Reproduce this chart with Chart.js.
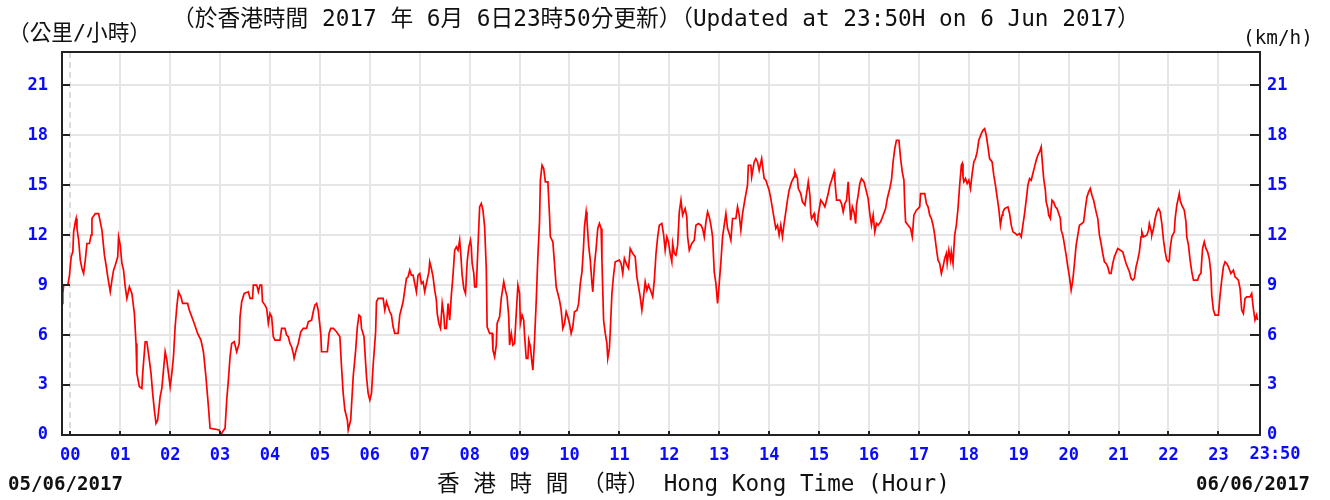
<!DOCTYPE html>
<html>
<head>
<meta charset="utf-8">
<script src="https://cdn.jsdelivr.net/npm/chart.js@4/dist/chart.umd.min.js"></script>
<style>
  html, body { margin: 0; padding: 0; background: #fff; }
  #wrap { width: 1330px; height: 500px; }
</style>
</head>
<body>
<div id="wrap"><canvas id="wind" width="1330" height="500"></canvas></div>
<script>
// wind speed readings, minutes after 00:00 on 05/06/2017 -> km/h
const minutes = [
  -10, -9, -8, -3, -1, 1, 3, 4, 6, 7, 8, 10, 12, 14, 16, 18, 20, 23, 25, 26, 30, 34, 36, 38, 41, 43, 45, 48, 50, 52, 54, 57, 58,
  60, 62, 64, 66, 68, 71, 74, 77, 79, 80, 83, 86, 87, 90, 92, 95, 97, 99, 101, 103, 105, 108, 110, 112, 114, 116, 118,
  120, 122, 124, 126, 128, 130, 133, 135, 141, 143, 149, 153, 157, 160, 163, 166, 168, 179,
  181, 183, 186, 188, 190, 192, 194, 197, 200, 203, 204, 206, 209, 214, 216, 219, 220, 224, 226, 228, 230, 231, 234, 236, 238,
  240, 242, 244, 246, 252, 254, 258, 260, 262, 264, 266, 268, 269, 272, 274, 277, 280, 284, 286, 290, 292, 294, 296, 298,
  301, 302, 309, 311, 313, 316, 320, 324, 326, 328, 330, 333, 334, 337, 340, 343, 345, 347, 349, 350, 353, 354, 356, 358,
  360, 362, 364, 367, 368, 370, 376, 378, 380, 382, 384, 386, 388, 390, 394, 396, 398, 400, 402, 404, 406, 408, 410, 412,
  414, 416, 418, 420, 422, 424, 426, 428, 431, 432, 434, 436, 438, 440, 441, 443, 445, 447, 449, 450, 452, 454, 456, 458,
  460, 462, 464, 466, 468, 469, 471, 473, 475, 477, 479, 481, 482, 483, 485, 486, 488, 490, 492, 494, 496, 498,
  500, 501, 504, 507, 508, 510, 512, 513, 516, 518, 521, 523, 525, 527, 528, 530, 532, 534, 536, 538,
  540, 541, 543, 545, 546, 548, 550, 551, 553, 555, 556, 558, 560, 562, 564, 565, 567, 569, 571, 574, 576, 577,
  580, 582, 584, 586, 588, 590, 592, 594, 596, 598, 600, 602, 604, 606, 609, 611, 613, 615, 617, 618,
  620, 621, 623, 625, 627, 628, 630, 632, 634, 636, 638, 639, 641, 643, 645, 646, 648, 649, 651, 653, 655,
  660, 662, 664, 666, 669, 671, 673, 676, 679, 681, 683, 685, 687, 689, 691, 693, 695, 698,
  700, 702, 704, 706, 708, 711, 713, 715, 717, 719, 721, 723, 724, 726, 728, 730, 732, 734, 736, 739,
  741, 742, 744, 747, 750, 752, 755, 758, 760, 762, 764, 766, 768, 770, 772, 774, 776, 778,
  780, 782, 784, 786, 788, 790, 792, 794, 796, 800, 802, 804, 806, 808, 811, 814, 815, 818, 819,
  822, 824, 826, 828, 831, 834, 836, 838, 840, 842, 844, 846, 848, 850, 852, 854, 856, 858,
  860, 862, 864, 867, 870, 871, 874, 875, 878, 880, 883, 885, 887, 889, 890, 891, 894, 895, 898, 899,
  902, 905, 907, 909, 911, 913, 915, 918, 919, 921, 925, 927, 929, 931, 933, 935, 936, 938,
  940, 942, 944, 945, 947, 949, 951, 954, 956, 959, 961, 963, 965, 967, 969, 971, 974, 977,
  980, 982, 985, 987, 989, 991, 993, 996, 998, 1000, 1002, 1003, 1004, 1007, 1010, 1012, 1014, 1017, 1019,
  1021, 1022, 1027, 1029, 1031, 1033, 1035, 1037, 1039, 1041, 1043, 1045, 1047, 1049, 1051, 1053, 1054, 1056, 1058, 1059,
  1061, 1063, 1065, 1067, 1069, 1071, 1072, 1073, 1074, 1076, 1078, 1080, 1082, 1084, 1086, 1088, 1090, 1092, 1095, 1097, 1099,
  1101, 1103, 1105, 1108, 1110, 1112, 1114, 1116, 1118, 1120, 1121, 1123, 1127, 1129, 1131, 1133, 1136, 1138,
  1141, 1143, 1145, 1147, 1149, 1151, 1153, 1155, 1157, 1159, 1161, 1163, 1165, 1167, 1168, 1170, 1172, 1173, 1175, 1176, 1178,
  1180, 1182, 1184, 1186, 1188, 1190, 1191, 1193, 1195, 1197, 1199, 1201, 1203, 1205, 1207, 1209, 1211, 1213, 1216, 1218,
  1220, 1222, 1224, 1226, 1228, 1230, 1233, 1235, 1237, 1239, 1241, 1243, 1245, 1247, 1249, 1251, 1253, 1255, 1259,
  1265, 1269, 1273, 1275, 1277, 1279, 1281, 1283, 1285, 1287, 1288, 1290, 1294, 1296, 1297, 1299,
  1300, 1302, 1304, 1306, 1308, 1310, 1312, 1314, 1316, 1318, 1320, 1321, 1322, 1324, 1327, 1328, 1330, 1333, 1334, 1336, 1339,
  1341, 1342, 1344, 1346, 1348, 1350, 1355, 1357, 1359, 1360, 1361, 1363, 1365, 1367, 1369, 1371, 1372, 1374, 1376,
  1380, 1382, 1384, 1386, 1388, 1390, 1392, 1395, 1398, 1400, 1402, 1404, 1406, 1408, 1410, 1412, 1414, 1418,
  1420, 1422, 1424, 1426, 1427
];
const speeds = [
  7.9, 8.5, 9.0, 9.0, 9.6, 10.7, 11.0, 12.2, 12.8, 13.0, 12.4, 11.7, 10.5, 10.0, 9.7, 10.5, 11.5, 11.5, 12.0, 13.0, 13.3, 13.3, 12.8, 12.3, 10.8, 10.2, 9.5, 8.6, 9.3, 9.9, 10.2, 10.7, 11.9,
  11.4, 10.3, 9.9, 8.9, 8.2, 8.9, 8.5, 7.3, 5.5, 3.7, 2.9, 2.8, 3.7, 5.6, 5.6, 4.5, 3.7, 2.5, 1.5, 0.7, 0.9, 2.3, 2.8, 3.9, 5.0, 4.5, 3.7,
  2.9, 3.7, 4.7, 6.5, 7.7, 8.6, 8.3, 7.9, 7.9, 7.5, 6.7, 6.1, 5.7, 5.0, 3.5, 1.7, 0.4, 0.3,
  0.0, 0.2, 0.4, 2.1, 3.3, 4.7, 5.5, 5.6, 5.0, 5.5, 7.1, 8.0, 8.5, 8.6, 8.2, 8.2, 9.0, 9.0, 8.6, 9.0, 9.0, 8.0, 7.8, 7.6, 6.7,
  7.3, 7.1, 5.9, 5.7, 5.7, 6.4, 6.4, 6.0, 5.9, 5.5, 5.3, 4.9, 4.6, 5.2, 5.5, 6.2, 6.4, 6.4, 6.8, 6.9, 7.4, 7.8, 7.9, 7.5,
  6.1, 5.0, 5.0, 6.1, 6.4, 6.4, 6.2, 5.9, 4.1, 2.5, 1.5, 0.9, 0.3, 0.9, 3.5, 5.1, 6.5, 7.2, 7.1, 6.4, 5.9, 5.1, 3.5, 2.5,
  2.1, 2.5, 4.2, 6.2, 8.0, 8.2, 8.2, 7.5, 8.0, 7.7, 7.4, 7.2, 6.5, 6.1, 6.1, 7.2, 7.6, 8.0, 8.7, 9.4, 9.5, 9.9, 9.6, 9.6,
  9.1, 8.6, 9.6, 9.7, 9.1, 9.2, 8.6, 9.1, 9.8, 10.4, 10.0, 9.5, 8.7, 8.1, 7.3, 6.7, 6.4, 7.9, 7.2, 6.4, 6.4, 7.9, 6.9, 8.4,
  9.6, 11.1, 11.3, 11.1, 11.7, 11.1, 9.6, 8.8, 8.5, 10.4, 11.3, 11.7, 11.3, 10.3, 9.7, 8.9, 8.9, 11.3, 13.7, 13.9, 13.5, 12.5,
  10.0, 6.5, 6.1, 6.1, 5.1, 4.7, 5.4, 6.7, 7.1, 8.2, 9.2, 8.7, 8.3, 7.1, 5.4, 6.1, 5.4, 5.5, 7.3, 9.0,
  8.5, 6.7, 7.2, 6.9, 6.0, 4.6, 4.6, 5.7, 5.3, 4.3, 3.9, 5.7, 8.0, 10.7, 12.8, 15.3, 16.2, 16.0, 15.2, 15.2, 13.2, 11.9,
  11.6, 10.3, 8.9, 8.5, 8.1, 7.5, 6.4, 6.7, 7.4, 7.1, 6.7, 6.1, 6.5, 7.4, 7.5, 7.9, 9.1, 9.8, 11.4, 12.5,
  13.4, 12.9, 11.4, 10.5, 9.1, 8.6, 10.2, 11.2, 12.4, 12.7, 12.4, 10.5, 6.9, 6.1, 5.5, 4.6, 5.2, 6.2, 8.5, 9.6, 10.4,
  10.5, 10.3, 9.7, 10.6, 10.2, 10.0, 11.2, 10.9, 10.7, 9.5, 8.9, 8.3, 7.5, 8.3, 9.2, 8.7, 9.0, 8.6,
  8.3, 9.3, 10.9, 11.9, 12.6, 12.7, 12.1, 11.1, 11.9, 11.6, 10.9, 10.4, 11.5, 10.9, 10.8, 11.4, 13.4, 14.1, 13.2, 13.6,
  13.1, 11.9, 11.1, 11.5, 11.7, 12.6, 12.7, 12.6, 12.4, 11.9, 12.8, 13.4, 13.1, 12.6, 11.9, 9.8, 9.1, 7.9,
  9.1, 10.4, 11.9, 12.6, 13.3, 12.4, 12.1, 11.7, 13.0, 13.0, 13.7, 13.2, 12.3, 13.3, 14.2, 15.0, 16.2, 16.2, 15.5,
  16.4, 16.6, 16.4, 15.9, 16.6, 15.4, 15.3, 15.0, 14.7, 14.2, 13.6, 13.0, 12.4, 12.6, 12.0, 12.6, 11.9, 12.7,
  13.4, 14.1, 14.7, 15.2, 15.5, 15.8, 15.4, 14.8, 14.5, 14.0, 13.8, 14.5, 15.2, 14.4, 13.3, 13.0, 13.3, 12.9, 12.6, 13.2,
  14.1, 13.9, 13.7, 14.1, 14.5, 15.0, 15.3, 15.8, 15.3, 14.1, 14.1, 13.9, 13.4, 13.9, 14.1, 15.2, 14.4, 12.9,
  13.7, 13.4, 12.7, 13.8, 14.4, 15.1, 15.4, 15.2, 14.8, 14.2, 13.3, 12.6, 13.2, 12.2, 12.7, 12.6, 12.8, 13.2,
  13.6, 14.2, 14.8, 15.3, 16.4, 17.2, 17.7, 17.7, 16.6, 15.8, 15.3, 13.8, 12.8, 12.6, 12.4, 11.9, 13.2, 13.5, 13.6,
  13.7, 14.5, 14.5, 13.9, 13.7, 13.2, 13.0, 12.6, 12.0, 11.2, 10.5, 10.3, 9.7, 10.1, 10.6, 10.9, 10.3, 11.1, 10.5, 11.0,
  10.3, 12.0, 12.6, 13.6, 15.0, 16.2, 16.3, 15.5, 15.2, 15.4, 15.1, 15.3, 14.8, 15.7, 16.4, 16.6, 17.0, 17.7, 18.1, 18.3, 18.4,
  18.0, 17.3, 16.6, 16.4, 15.6, 15.0, 14.3, 13.6, 12.6, 13.2, 13.4, 13.6, 13.7, 13.3, 12.6, 12.2, 12.1, 12.0,
  12.1, 11.9, 12.6, 13.3, 14.1, 15.0, 15.4, 15.3, 15.7, 16.1, 16.5, 16.8, 17.0, 17.3, 16.6, 15.4, 14.7, 14.0, 13.6, 13.2, 13.0,
  14.1, 14.0, 13.7, 13.6, 13.3, 13.0, 12.3, 12.0, 11.4, 10.8, 10.1, 9.5, 8.7, 9.3, 10.3, 11.4, 12.0, 12.6, 12.7, 12.8,
  13.6, 14.3, 14.6, 14.8, 14.4, 14.1, 13.4, 13.0, 12.0, 11.5, 10.9, 10.4, 10.3, 10.1, 9.7, 9.7, 10.3, 10.7, 11.2,
  11.0, 10.3, 9.8, 9.4, 9.3, 9.4, 10.1, 10.5, 11.0, 11.9, 12.2, 11.9, 12.0, 12.3, 12.7, 12.3,
  12.0, 12.4, 13.0, 13.4, 13.6, 13.4, 12.7, 11.7, 11.0, 10.5, 10.4, 10.5, 11.2, 11.9, 12.2, 13.0, 13.8, 14.5, 14.1, 13.8, 13.5,
  12.8, 11.9, 11.4, 10.5, 9.8, 9.3, 9.3, 9.6, 9.7, 10.5, 11.2, 11.6, 11.2, 11.0, 10.6, 9.7, 8.4, 7.5, 7.2,
  7.2, 8.4, 9.3, 10.1, 10.4, 10.3, 10.1, 9.7, 9.9, 9.5, 9.4, 9.3, 8.8, 7.5, 7.3, 8.2, 8.3, 8.3,
  8.5, 7.6, 6.9, 7.2, 6.9
];
const hourTicks = [0, 1, 2, 3, 4, 5, 6, 7, 8, 9, 10, 11, 12, 13, 14, 15, 16, 17, 18, 19, 20, 21, 22, 23];
const speedTicks = [0, 3, 6, 9, 12, 15, 18, 21];
const endLabel = '23:50';
const titleZh = '（於香港時間 2017 年 6月 6日23時50分更新）（Updated at 23:50H on 6 Jun 2017）';
const unitZh = '（公里/小時）';
const unitEn = '(km/h)';
const axisTitle = '香 港 時 間 （時） Hong Kong Time (Hour)';
const startDate = '05/06/2017';
const endDate = '06/06/2017';

const BLUE = '#0a0aff';
const MONO = '"DejaVu Sans Mono", "Liberation Mono", monospace';
const CJK = '"DejaVu Sans Mono", "Noto Sans CJK TC", monospace';
const tickFont = { family: MONO, size: 17, weight: 'bold' };

// draw text squeezed/stretched to a measured width
function fitText(ctx, text, x, y, width, weight, family, align) {
  ctx.font = weight + ' 20px ' + family;
  const w = ctx.measureText(text).width;
  const size = 20 * width / w;
  ctx.font = weight + ' ' + size.toFixed(2) + 'px ' + family;
  ctx.textAlign = align || 'left';
  ctx.textBaseline = 'middle';
  ctx.fillText(text, x, y);
}

const frame = {
  id: 'frame',
  beforeDatasetsDraw(chart) {
    const { ctx, chartArea: a, scales } = chart;
    const x = scales.x, y = scales.y;
    ctx.save();
    ctx.lineWidth = 2;
    ctx.strokeStyle = '#e6e6e6';
    speedTicks.slice(1).forEach(v => {
      const py = Math.round(y.getPixelForValue(v));
      ctx.beginPath(); ctx.moveTo(a.left, py); ctx.lineTo(a.right, py); ctx.stroke();
    });
    hourTicks.forEach(h => {
      const px = Math.round(x.getPixelForValue(h * 60));
      ctx.beginPath();
      ctx.setLineDash(h === 0 ? [6, 4] : []);
      ctx.strokeStyle = h === 0 ? '#dcdcdc' : '#e6e6e6';
      ctx.moveTo(px, a.top); ctx.lineTo(px, a.bottom); ctx.stroke();
    });
    ctx.restore();
  },
  afterDatasetsDraw(chart) {
    const { ctx, chartArea: a, scales } = chart;
    const x = scales.x, y = scales.y;
    ctx.save();
    ctx.strokeStyle = '#222';
    ctx.lineWidth = 2;
    ctx.strokeRect(a.left, a.top, a.right - a.left, a.bottom - a.top);
    hourTicks.forEach(h => {
      const px = Math.round(x.getPixelForValue(h * 60));
      ctx.beginPath(); ctx.moveTo(px, a.bottom); ctx.lineTo(px, a.bottom - 4); ctx.stroke();
    });
    speedTicks.forEach(v => {
      const py = Math.round(y.getPixelForValue(v));
      ctx.beginPath(); ctx.moveTo(a.left, py); ctx.lineTo(a.left + 8, py); ctx.stroke();
      ctx.beginPath(); ctx.moveTo(a.right, py); ctx.lineTo(a.right - 10, py); ctx.stroke();
    });

    ctx.fillStyle = BLUE;
    ctx.font = 'bold 17px ' + MONO;
    ctx.textAlign = 'center';
    ctx.textBaseline = 'middle';
    ctx.fillText(endLabel, a.right + 15, a.bottom + 20);

    ctx.fillStyle = '#111';
    fitText(ctx, titleZh, 172, 20, 968, 'normal', CJK);
    fitText(ctx, unitZh, 8, 34, 143, 'normal', CJK);
    fitText(ctx, unitEn, 1243, 39, 70, 'normal', MONO);
    fitText(ctx, axisTitle, 437, 485, 513, 'normal', CJK);
    fitText(ctx, startDate, 8, 485, 115, 'bold', MONO);
    fitText(ctx, endDate, 1196, 485, 114, 'bold', MONO);
    ctx.restore();
  }
};

const points = minutes.map((m, i) => ({ x: m, y: speeds[i] }));

new Chart(document.getElementById('wind'), {
  type: 'line',
  data: {
    datasets: [{
      data: points,
      borderColor: '#ff0000',
      borderWidth: 1.7,
      pointRadius: 0,
      tension: 0,
      fill: false,
      yAxisID: 'y'
    }]
  },
  options: {
    responsive: false,
    animation: false,
    devicePixelRatio: 1,
    layout: { padding: { top: 52, left: 0, right: 0, bottom: 0 } },
    plugins: { legend: { display: false }, tooltip: { enabled: false } },
    scales: {
      x: {
        type: 'linear',
        min: -10,
        max: 1430,
        afterBuildTicks: s => { s.ticks = hourTicks.map(h => ({ value: h * 60 })); },
        afterFit: s => { s.height = 65; },
        ticks: {
          autoSkip: false, maxRotation: 0, padding: 10, color: BLUE, font: tickFont,
          callback: v => String(v / 60).padStart(2, '0')
        },
        grid: { display: false, drawTicks: false },
        border: { display: false }
      },
      y: {
        position: 'left',
        min: 0,
        max: 23,
        afterBuildTicks: s => { s.ticks = speedTicks.map(v => ({ value: v })); },
        afterFit: s => { s.width = 62; },
        ticks: { padding: 14, color: BLUE, font: tickFont },
        grid: { display: false, drawTicks: false },
        border: { display: false }
      },
      y2: {
        position: 'right',
        min: 0,
        max: 23,
        afterBuildTicks: s => { s.ticks = speedTicks.map(v => ({ value: v })); },
        afterFit: s => { s.width = 70; },
        ticks: { padding: 7, color: BLUE, font: tickFont },
        grid: { display: false, drawTicks: false },
        border: { display: false }
      }
    }
  },
  plugins: [frame]
});
</script>
</body>
</html>
